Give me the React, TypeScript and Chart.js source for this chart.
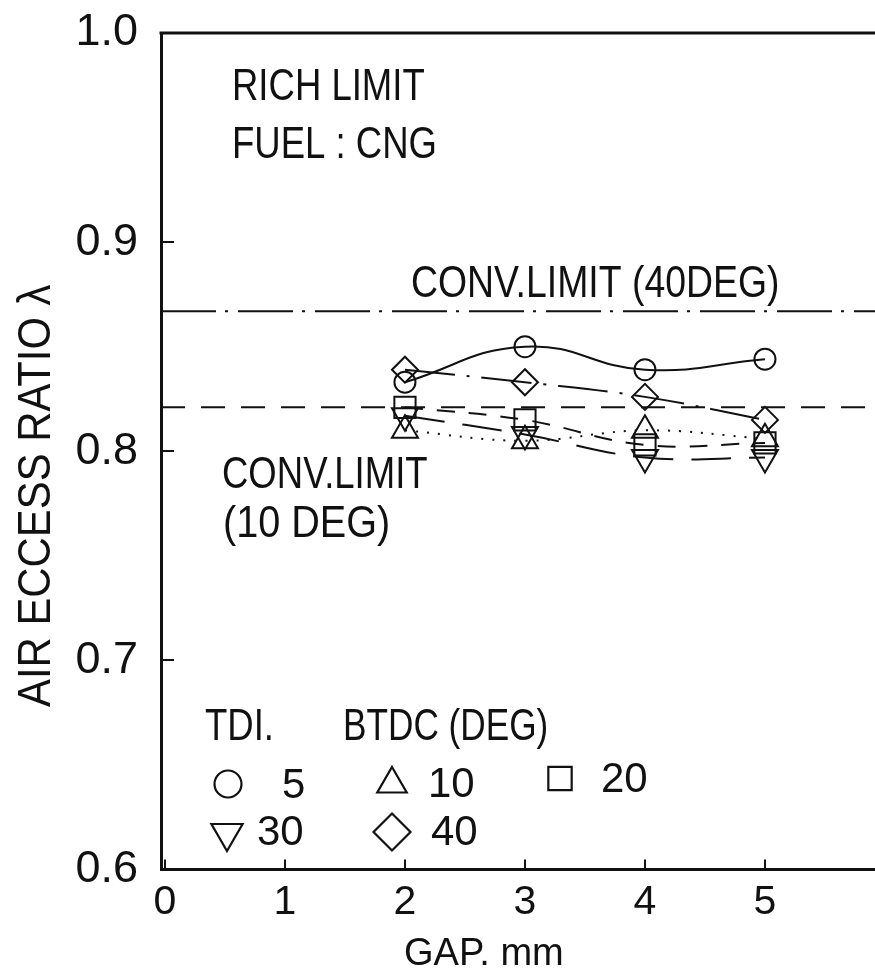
import React, { useEffect, useRef } from "react";
import { Chart, registerables } from "chart.js";
Chart.register(...registerables);

// ---- data ----
const gapMm = [2, 3, 4, 5];
const tdi5 = [0.833, 0.85, 0.839, 0.844];
const tdi10 = [0.81, 0.805, 0.81, 0.806];
const tdi20 = [0.821, 0.815, 0.803, 0.804];
const tdi30 = [0.817, 0.808, 0.797, 0.797];
const tdi40 = [0.839, 0.833, 0.826, 0.815];
const convLimit40 = 0.867;
const convLimit10 = 0.821;
const xTickValues = [0, 1, 2, 3, 4, 5];
const yTickValues = [0.6, 0.7, 0.8, 0.9, 1.0];
const xMin = -0.033;
const xMax = 5.917;
const yMin = 0.6;
const yMax = 1.0;

const INK = "#111111";
const FAMILY = '"Liberation Sans", Arial, sans-serif';

function pts(vals: number[]) {
  return gapMm.map((g, i) => ({ x: g, y: vals[i] }));
}

function txt(ctx: CanvasRenderingContext2D, s: string, x: number, y: number, size: number, sx = 1, rot = 0) {
  ctx.save();
  ctx.translate(x, y);
  if (rot) ctx.rotate(rot);
  ctx.scale(sx, 1);
  ctx.font = `${size}px ${FAMILY}`;
  ctx.fillStyle = INK;
  ctx.textBaseline = "alphabetic";
  ctx.textAlign = "left";
  ctx.fillText(s, 0, 0);
  ctx.restore();
}

function sym(ctx: CanvasRenderingContext2D, kind: string, x: number, y: number, r: number) {
  ctx.save();
  ctx.strokeStyle = INK;
  ctx.lineWidth = 2.2;
  ctx.beginPath();
  if (kind === "circle") {
    ctx.arc(x, y, r, 0, Math.PI * 2);
  } else if (kind === "triUp") {
    ctx.moveTo(x, y - r);
    ctx.lineTo(x + r * 0.866, y + r * 0.5);
    ctx.lineTo(x - r * 0.866, y + r * 0.5);
    ctx.closePath();
  } else if (kind === "triDown") {
    ctx.moveTo(x, y + r);
    ctx.lineTo(x + r * 0.866, y - r * 0.5);
    ctx.lineTo(x - r * 0.866, y - r * 0.5);
    ctx.closePath();
  } else if (kind === "square") {
    const h = r * Math.SQRT1_2;
    ctx.rect(x - h, y - h, 2 * h, 2 * h);
  } else if (kind === "diamond") {
    ctx.moveTo(x, y - r);
    ctx.lineTo(x + r, y);
    ctx.lineTo(x, y + r);
    ctx.lineTo(x - r, y);
    ctx.closePath();
  }
  ctx.stroke();
  ctx.restore();
}

const decorPlugin = {
  id: "decor",
  afterDraw(chart: any) {
    const ctx: CanvasRenderingContext2D = chart.ctx;
    const a = chart.chartArea;
    // top frame line
    ctx.save();
    ctx.strokeStyle = INK;
    ctx.lineWidth = 3;
    ctx.beginPath();
    ctx.moveTo(a.left - 1.5, a.top);
    ctx.lineTo(a.right, a.top);
    ctx.stroke();
    ctx.restore();

    // annotations
    txt(ctx, "RICH LIMIT", 232, 100, 44, 0.83);
    txt(ctx, "FUEL : CNG", 232, 158, 44, 0.83);
    txt(ctx, "CONV.LIMIT (40DEG)", 411, 297, 44, 0.85);
    txt(ctx, "CONV.LIMIT", 222, 488, 44, 0.83);
    txt(ctx, "(10 DEG)", 223, 537, 44, 0.9);

    // legend
    txt(ctx, "TDI.", 205, 740, 44, 0.83);
    txt(ctx, "BTDC (DEG)", 343, 740, 44, 0.8);
    sym(ctx, "circle", 228, 784, 13.5);
    txt(ctx, "5", 282, 798, 42);
    sym(ctx, "triUp", 392, 784, 17);
    txt(ctx, "10", 428, 797, 42);
    sym(ctx, "square", 560, 778.5, 16.5);
    txt(ctx, "20", 601, 792, 42);
    sym(ctx, "triDown", 227, 833, 18);
    txt(ctx, "30", 257, 845, 42);
    sym(ctx, "diamond", 392, 832, 18.5);
    txt(ctx, "40", 431, 845, 42);

    // axis titles
    txt(ctx, "AIR ECCESS RATIO \u03bb", 50, 707, 46, 0.91, -Math.PI / 2);
    txt(ctx, "GAP. mm", 404, 965, 38, 1.0);
  },
};

export default function App() {
  const ref = useRef<HTMLCanvasElement | null>(null);
  useEffect(() => {
    if (!ref.current) return;
    const common = {
      borderColor: INK,
      borderWidth: 2,
      pointBorderColor: INK,
      pointBackgroundColor: "rgba(0,0,0,0)",
      pointBorderWidth: 2,
      fill: false,
    };
    const chart = new Chart(ref.current, {
      type: "line",
      data: {
        datasets: [
          {
            ...common,
            label: "CONV.LIMIT (40DEG)",
            data: [
              { x: xMin, y: convLimit40 },
              { x: xMax, y: convLimit40 },
            ],
            borderDash: [55, 9, 3, 10],
            pointRadius: 0,
            tension: 0,
          },
          {
            ...common,
            label: "CONV.LIMIT (10 DEG)",
            data: [
              { x: xMin, y: convLimit10 },
              { x: xMax, y: convLimit10 },
            ],
            borderDash: [24, 16],
            pointRadius: 0,
            tension: 0,
          },
          {
            ...common,
            label: "5",
            data: pts(tdi5),
            pointStyle: "circle",
            pointRadius: 10.5,
            tension: 0.45,
          },
          {
            ...common,
            label: "10",
            data: pts(tdi10),
            pointStyle: "triangle",
            pointRadius: 15,
            borderDash: [2, 9],
            tension: 0.4,
          },
          {
            ...common,
            label: "20",
            data: pts(tdi20),
            pointStyle: "rect",
            pointRadius: 15,
            borderDash: [18, 14],
            tension: 0.4,
          },
          {
            ...common,
            label: "30",
            data: pts(tdi30),
            pointStyle: "triangle",
            pointRotation: 180,
            pointRadius: 15,
            borderDash: [40, 18],
            tension: 0.4,
          },
          {
            ...common,
            label: "40",
            data: pts(tdi40),
            pointStyle: "rectRot",
            pointRadius: 13,
            borderDash: [50, 12, 3, 12],
            tension: 0.4,
          },
        ] as any,
      },
      options: {
        responsive: false,
        animation: false,
        layout: { autoPadding: false, padding: { left: 0, right: 0, top: 33, bottom: 0 } },
        plugins: { legend: { display: false }, tooltip: { enabled: false } },
        scales: {
          x: {
            type: "linear",
            min: xMin,
            max: xMax,
            afterBuildTicks: (s: any) => {
              s.ticks = xTickValues.map((v) => ({ value: v }));
            },
            afterFit: (s: any) => {
              s.height = 107.5;
              s.paddingLeft = 0;
              s.paddingRight = 0;
            },
            grid: { drawOnChartArea: false, drawTicks: true, tickLength: -10, color: INK, lineWidth: 2 },
            border: { display: true, color: INK, width: 3 },
            ticks: {
              padding: 19,
              color: INK,
              font: { family: FAMILY, size: 41 },
              maxRotation: 0,
              autoSkip: false,
              callback: (v: any) => String(v),
            },
          },
          y: {
            type: "linear",
            min: yMin,
            max: yMax,
            afterBuildTicks: (s: any) => {
              s.ticks = yTickValues.map((v) => ({ value: v }));
            },
            afterFit: (s: any) => {
              s.width = 161;
              s.paddingTop = 0;
              s.paddingBottom = 0;
            },
            grid: { drawOnChartArea: false, drawTicks: true, tickLength: -13, color: INK, lineWidth: 2 },
            border: { display: true, color: INK, width: 3 },
            ticks: {
              padding: 36,
              color: INK,
              font: { family: FAMILY, size: 45 },
              autoSkip: false,
              callback: (v: any) => Number(v).toFixed(1),
            },
          },
        },
      } as any,
      plugins: [decorPlugin],
    });
    return () => chart.destroy();
  }, []);
  return (
    <div style={{ position: "fixed", left: 0, top: 0, width: 875, height: 977, background: "#fff" }}>
      <canvas ref={ref} width={875} height={977} style={{ display: "block", width: 875, height: 977 }} />
    </div>
  );
}
